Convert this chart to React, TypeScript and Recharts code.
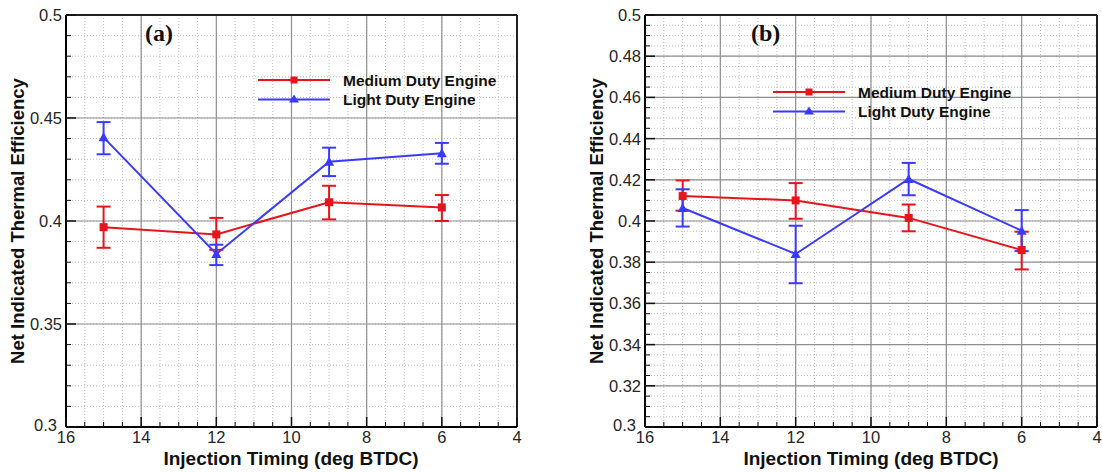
import { CartesianGrid, ErrorBar, Legend, Line, LineChart, ReferenceLine, XAxis, YAxis } from "recharts";

const RED = "#e8141c";
const BLUE = "#3a3aff";

const timing = [15, 12, 9, 6];
const seriesNames = ["Medium Duty Engine", "Light Duty Engine"];

// panel (a)
const mediumA = [0.397, 0.3935, 0.4091, 0.4066];
const mediumAHigh = [0.407, 0.4015, 0.4171, 0.4126];
const mediumALow = [0.387, 0.386, 0.4008, 0.4];
const lightA = [0.4406, 0.384, 0.4288, 0.4329];
const lightAHigh = [0.448, 0.3885, 0.4356, 0.4379];
const lightALow = [0.4324, 0.3786, 0.4218, 0.4278];

// panel (b)
const mediumB = [0.4121, 0.41, 0.4015, 0.3859];
const mediumBHigh = [0.4197, 0.4184, 0.408, 0.3948];
const mediumBLow = [0.405, 0.4011, 0.395, 0.3765];
const lightB = [0.4063, 0.384, 0.4204, 0.3953];
const lightBHigh = [0.4154, 0.3977, 0.4282, 0.4053];
const lightBLow = [0.3973, 0.3698, 0.4125, 0.3854];

// axes
const xMajor = [16, 14, 12, 10, 8, 6, 4];
const yMajorA = [0.5, 0.45, 0.4, 0.35, 0.3];
const yMajorB = [0.5, 0.48, 0.46, 0.44, 0.42, 0.4, 0.38, 0.36, 0.34, 0.32, 0.3];

const steps = (from: number, to: number, step: number) => {
  const out: number[] = [];
  const n = Math.round((to - from) / step);
  for (let i = 0; i <= n; i++) out.push(+(from + i * step).toFixed(4));
  return out;
};
const xMinor = steps(4, 16, 0.5);
const yMinorA = steps(0.3, 0.5, 0.01);
const yMinorB = steps(0.3, 0.5, 0.005);

function buildRows(med: number[], medHi: number[], medLo: number[], lt: number[], ltHi: number[], ltLo: number[]) {
  return timing.map((t, i) => ({
    t,
    medium: med[i],
    mediumErr: [med[i] - medLo[i], medHi[i] - med[i]],
    light: lt[i],
    lightErr: [lt[i] - ltLo[i], ltHi[i] - lt[i]],
  }));
}

const rowsA = buildRows(mediumA, mediumAHigh, mediumALow, lightA, lightAHigh, lightALow);
const rowsB = buildRows(mediumB, mediumBHigh, mediumBLow, lightB, lightBHigh, lightBLow);

const isMajor = (list: number[], v: number) => list.find((m) => Math.abs(m - v) < 1e-6);

const tickFont = { fontFamily: "Liberation Sans, Arial, sans-serif", fontSize: 16.5, fill: "#262626" };

function makeYTick(majors: number[]) {
  return (props: any) => {
    const { x, y, payload } = props;
    const m = isMajor(majors, payload.value);
    const bottom = m !== undefined && Math.abs(m - 0.3) < 1e-6;
    return (
      <g>
        <line x1={x} x2={x + (m !== undefined ? 10 : 5)} y1={y} y2={y} stroke="#111" strokeWidth={m !== undefined ? 1.5 : 1} />
        {m !== undefined && (
          <text x={bottom ? x - 9 : x - 4} y={bottom ? y - 2 : y} dy="0.36em" textAnchor="end" {...tickFont}>
            {String(m)}
          </text>
        )}
      </g>
    );
  };
}

function XTick(props: any) {
  const { x, y, payload } = props;
  const m = isMajor(xMajor, payload.value);
  return (
    <g>
      <line x1={x} x2={x} y1={y} y2={y - (m !== undefined ? 10 : 5)} stroke="#111" strokeWidth={m !== undefined ? 1.5 : 1} />
      {m !== undefined && (
        <text x={x} y={y + 16} textAnchor="middle" {...tickFont}>
          {String(m)}
        </text>
      )}
    </g>
  );
}

const SquareDot = (props: any) => {
  const { cx, cy } = props;
  if (cx == null || cy == null) return null;
  return <rect x={cx - 4} y={cy - 4} width={8} height={8} fill={RED} />;
};

const TriangleDot = (props: any) => {
  const { cx, cy } = props;
  if (cx == null || cy == null) return null;
  return <polygon points={`${cx},${cy - 5} ${cx - 5},${cy + 4} ${cx + 5},${cy + 4}`} fill={BLUE} />;
};

function LegendBox() {
  const items = [
    { name: seriesNames[0], color: RED, tri: false },
    { name: seriesNames[1], color: BLUE, tri: true },
  ];
  return (
    <svg width={260} height={40} style={{ display: "block" }}>
      {items.map((it, i) => {
        const y = 8 + i * 19.5;
        return (
          <g key={it.name}>
            <line x1={0} x2={72} y1={y} y2={y} stroke={it.color} strokeWidth={2} />
            {it.tri ? (
              <polygon points={`36,${y - 5} 31,${y + 3} 41,${y + 3}`} fill={it.color} />
            ) : (
              <rect x={32.5} y={y - 3.5} width={7} height={7} fill={it.color} />
            )}
            <text
              x={85}
              y={y}
              dy="0.36em"
              fontFamily="Liberation Sans, Arial, sans-serif"
              fontWeight="bold"
              fontSize={15.5}
              fill="#111"
            >
              {it.name}
            </text>
          </g>
        );
      })}
    </svg>
  );
}

interface PanelProps {
  rows: ReturnType<typeof buildRows>;
  yMajor: number[];
  yMinor: number[];
  width: number;
  axisWidth: number;
  rightGap: number;
  legendPos: { left: number; top: number };
}

function Panel({ rows, yMajor, yMinor, width, axisWidth, rightGap, legendPos }: PanelProps) {
  const inner = yMajor.filter((v) => v > 0.3001 && v < 0.4999);
  const innerX = xMajor.filter((v) => v > 4 && v < 16);
  return (
    <LineChart width={width} height={472} data={rows} margin={{ top: 15, right: rightGap, bottom: 0, left: 0 }}>
      <CartesianGrid stroke="#bdbdbd" strokeDasharray="1 2" strokeWidth={1} />
      {inner.map((v) => (
        <ReferenceLine key={"y" + v} y={v} stroke="#8f8f8f" strokeWidth={1.2} />
      ))}
      {innerX.map((v) => (
        <ReferenceLine key={"x" + v} x={v} stroke="#8f8f8f" strokeWidth={1.2} />
      ))}
      <ReferenceLine y={0.5} stroke="#222" strokeWidth={2} ifOverflow="visible" />
      <ReferenceLine x={4} stroke="#222" strokeWidth={2} ifOverflow="visible" />
      <XAxis
        type="number"
        dataKey="t"
        domain={[4, 16]}
        reversed
        ticks={xMinor}
        interval={0}
        height={45}
        tickSize={0}
        tickMargin={0}
        tick={XTick}
        axisLine={{ stroke: "#000", strokeWidth: 2 }}
        allowDataOverflow
      />
      <YAxis
        type="number"
        domain={[0.3, 0.5]}
        ticks={yMinor}
        interval={0}
        width={axisWidth}
        tickSize={0}
        tickMargin={0}
        tick={makeYTick(yMajor)}
        axisLine={{ stroke: "#000", strokeWidth: 2 }}
        allowDataOverflow
      />
      <Legend
        layout="vertical"
        verticalAlign="middle"
        align="center"
        content={() => <LegendBox />}
        wrapperStyle={{ position: "absolute", left: legendPos.left, top: legendPos.top, width: 260 }}
      />
      <Line
        name={seriesNames[0]}
        dataKey="medium"
        stroke={RED}
        strokeWidth={2}
        dot={<SquareDot />}
        activeDot={false}
        isAnimationActive={false}
      >
        <ErrorBar dataKey="mediumErr" width={7} stroke={RED} strokeWidth={2} direction="y" isAnimationActive={false} />
      </Line>
      <Line
        name={seriesNames[1]}
        dataKey="light"
        stroke={BLUE}
        strokeWidth={2}
        dot={<TriangleDot />}
        activeDot={false}
        isAnimationActive={false}
      >
        <ErrorBar dataKey="lightErr" width={7} stroke={BLUE} strokeWidth={2} direction="y" isAnimationActive={false} />
      </Line>
    </LineChart>
  );
}

const labelFont: React.CSSProperties = {
  position: "absolute",
  fontFamily: "Liberation Sans, Arial, sans-serif",
  fontWeight: "bold",
  color: "#111",
  whiteSpace: "nowrap",
};

export default function App() {
  return (
    <div style={{ position: "absolute", left: 0, top: 0, width: 1102, height: 472, background: "#fff", overflow: "hidden" }}>
      <div style={{ position: "absolute", left: 0, top: 0 }}>
        <Panel rows={rowsA} yMajor={yMajorA} yMinor={yMinorA} width={540} axisWidth={66} rightGap={23} legendPos={{ left: 258, top: 72 }} />
      </div>
      <div style={{ position: "absolute", left: 560, top: 0 }}>
        <Panel rows={rowsB} yMajor={yMajorB} yMinor={yMinorB} width={542} axisWidth={85} rightGap={5} legendPos={{ left: 213, top: 84 }} />
      </div>

      <div style={{ ...labelFont, fontFamily: "Liberation Serif, Times New Roman, serif", fontSize: 24, left: 145, top: 20 }}>(a)</div>
      <div style={{ ...labelFont, fontFamily: "Liberation Serif, Times New Roman, serif", fontSize: 24, left: 751, top: 20 }}>(b)</div>

      <div style={{ ...labelFont, fontSize: 19, left: 291, top: 459, transform: "translate(-50%, -50%)" }}>
        Injection Timing (deg BTDC)
      </div>
      <div style={{ ...labelFont, fontSize: 19, left: 871, top: 459, transform: "translate(-50%, -50%)" }}>
        Injection Timing (deg BTDC)
      </div>

      <div style={{ ...labelFont, fontSize: 18.5, left: 18, top: 221, transform: "translate(-50%, -50%) rotate(-90deg)" }}>
        Net Indicated Thermal Efficiency
      </div>
      <div style={{ ...labelFont, fontSize: 18.5, left: 597, top: 221, transform: "translate(-50%, -50%) rotate(-90deg)" }}>
        Net Indicated Thermal Efficiency
      </div>
    </div>
  );
}
